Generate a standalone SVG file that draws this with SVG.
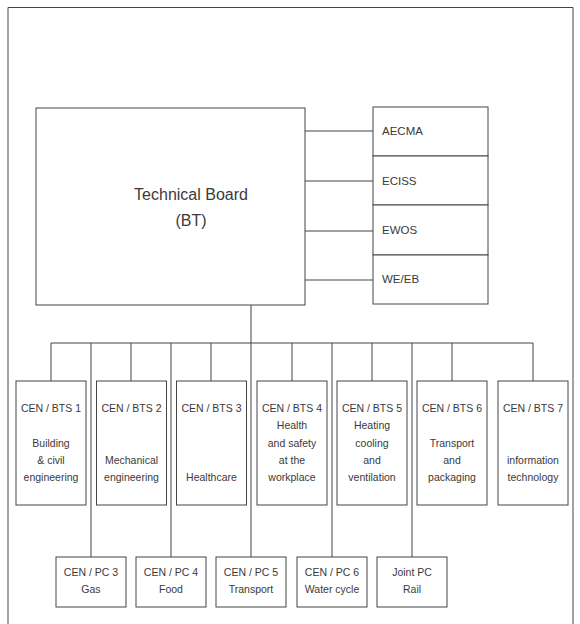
<svg xmlns="http://www.w3.org/2000/svg" width="580" height="624" viewBox="0 0 580 624">
<style>
.b{fill:#fff;stroke:#444;stroke-width:1}
.l{fill:none;stroke:#444;stroke-width:1}
text{font-family:"Liberation Sans",Arial,sans-serif;fill:#3a3a3a}
.s{font-size:10.5px;text-anchor:middle}
.m{font-size:11.5px}
.t{font-size:16px;text-anchor:middle}
</style>
<rect width="580" height="624" fill="#fff"/>
<path class="l" d="M8,624 V7.5 H573 V624"/>
<g id="connectors">
<path class="l" d="M305,131 H373 M305,181 H373 M305,231 H373 M305,280 H373"/>
<path class="l" d="M251,305 V557"/>
<path class="l" d="M51,343 H533"/>
<path class="l" d="M51,343 V381 M131,343 V381 M211,343 V381 M292,343 V381 M372,343 V381 M452,343 V381 M533,343 V381"/>
<path class="l" d="M91,343 V557 M171,343 V557 M332,343 V557 M412,343 V557"/>
</g>
<g id="tb"><rect class="b" x="36" y="108" width="269" height="197"/><text class="t" x="191" y="200">Technical Board</text><text class="t" x="191" y="226">(BT)</text></g>
<g id="aecma"><rect class="b" x="373" y="107" width="115" height="49"/><text class="m" x="382" y="135">AECMA</text></g>
<g id="eciss"><rect class="b" x="373" y="156" width="115" height="49"/><text class="m" x="382" y="185">ECISS</text></g>
<g id="ewos"><rect class="b" x="373" y="205" width="115" height="50"/><text class="m" x="382" y="234">EWOS</text></g>
<g id="weeb"><rect class="b" x="373" y="255" width="115" height="49"/><text class="m" x="382" y="283">WE/EB</text></g>
<g id="bts1"><rect class="b" x="16" y="381" width="70" height="124"/><text class="s" x="51" y="412">CEN / BTS 1</text><text class="s" x="51" y="447">Building</text><text class="s" x="51" y="464">&amp; civil</text><text class="s" x="51" y="481">engineering</text></g>
<g id="bts2"><rect class="b" x="96.5" y="381" width="70" height="124"/><text class="s" x="131.5" y="412">CEN / BTS 2</text><text class="s" x="131.5" y="464">Mechanical</text><text class="s" x="131.5" y="481">engineering</text></g>
<g id="bts3"><rect class="b" x="176.5" y="381" width="70" height="124"/><text class="s" x="211.5" y="412">CEN / BTS 3</text><text class="s" x="211.5" y="481">Healthcare</text></g>
<g id="bts4"><rect class="b" x="257" y="381" width="70" height="124"/><text class="s" x="292" y="412">CEN / BTS 4</text><text class="s" x="292" y="429">Health</text><text class="s" x="292" y="447">and safety</text><text class="s" x="292" y="464">at the</text><text class="s" x="292" y="481">workplace</text></g>
<g id="bts5"><rect class="b" x="337" y="381" width="70" height="124"/><text class="s" x="372" y="412">CEN / BTS 5</text><text class="s" x="372" y="429">Heating</text><text class="s" x="372" y="447">cooling</text><text class="s" x="372" y="464">and</text><text class="s" x="372" y="481">ventilation</text></g>
<g id="bts6"><rect class="b" x="417" y="381" width="70" height="124"/><text class="s" x="452" y="412">CEN / BTS 6</text><text class="s" x="452" y="447">Transport</text><text class="s" x="452" y="464">and</text><text class="s" x="452" y="481">packaging</text></g>
<g id="bts7"><rect class="b" x="498" y="381" width="70" height="124"/><text class="s" x="533" y="412">CEN / BTS 7</text><text class="s" x="533" y="464">information</text><text class="s" x="533" y="481">technology</text></g>
<g id="pc3"><rect class="b" x="56" y="557" width="70" height="50"/><text class="s" x="91" y="576">CEN / PC 3</text><text class="s" x="91" y="593">Gas</text></g>
<g id="pc4"><rect class="b" x="136" y="557" width="70" height="50"/><text class="s" x="171" y="576">CEN / PC 4</text><text class="s" x="171" y="593">Food</text></g>
<g id="pc5"><rect class="b" x="216" y="557" width="70" height="50"/><text class="s" x="251" y="576">CEN / PC 5</text><text class="s" x="251" y="593">Transport</text></g>
<g id="pc6"><rect class="b" x="297" y="557" width="70" height="50"/><text class="s" x="332" y="576">CEN / PC 6</text><text class="s" x="332" y="593">Water cycle</text></g>
<g id="rail"><rect class="b" x="377" y="557" width="70" height="50"/><text class="s" x="412" y="576">Joint PC</text><text class="s" x="412" y="593">Rail</text></g>
</svg>
